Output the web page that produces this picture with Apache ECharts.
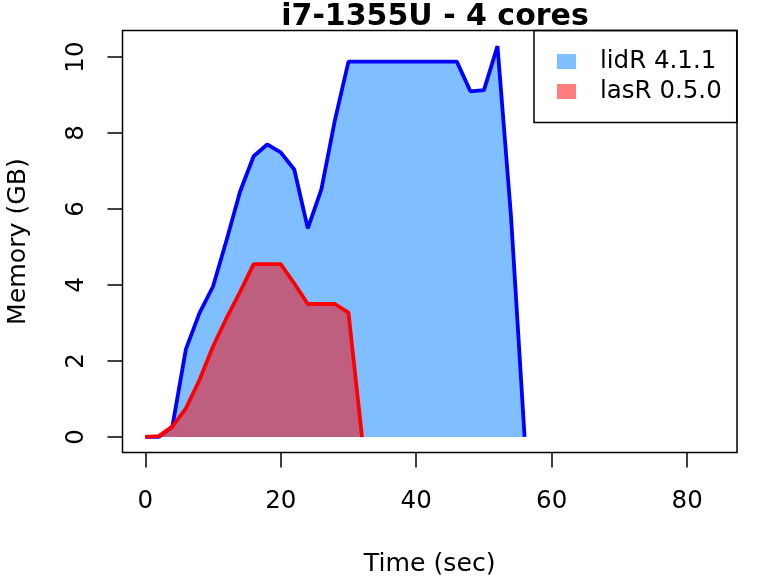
<!DOCTYPE html>
<html>
<head>
<meta charset="utf-8">
<script src="https://cdn.jsdelivr.net/npm/echarts@6/dist/echarts.min.js"></script>
<style>html,body{margin:0;padding:0;background:#fff}#c{width:768px;height:576px}</style>
</head>
<body>
<div id="c"></div>
<script>
const timeSec = [0,2,4,6,8,10,12,14,16,18,20,22,24,26,28,30,32,34,36,38,40,42,44,46,48,50,52,54,56];
const lidR = [0,0,0.27,2.31,3.26,3.96,5.18,6.46,7.39,7.70,7.49,7.04,5.49,6.52,8.34,9.88,9.88,9.88,9.88,9.88,9.88,9.88,9.88,9.88,9.10,9.13,10.29,5.80,0];
const lasRTime = [0,2,4,6,8,10,12,14,16,18,20,22,24,26,28,30,32];
const lasR = [0,0.02,0.27,0.75,1.50,2.38,3.13,3.82,4.55,4.55,4.55,4.04,3.50,3.50,3.50,3.27,0];
const xTicks = [0,20,40,60,80];
const yTicks = [0,2,4,6,8,10];
const seriesNames = ['lidR 4.1.1','lasR 0.5.0'];

const FONT = 'DejaVu Sans';
const chart = echarts.init(document.getElementById('c'), null, {renderer:'canvas'});
const pairs = (xs, ys) => xs.map((x,i)=>[x, ys[i]]);

chart.setOption({
  animation: false,
  backgroundColor: '#ffffff',
  title: {
    text: 'i7-1355U - 4 cores',
    left: 430, top: -3, textAlign: 'center',
    textStyle: {fontFamily: FONT, fontSize: 30, fontWeight: 'bold', color: '#000'}
  },
  legend: {
    orient: 'vertical',
    left: 534, top: 30.5,
    padding: [16, 15, 16, 23],
    itemGap: 0,
    itemWidth: 19, itemHeight: 15,
    borderColor: '#000', borderWidth: 1.5,
    textStyle: {fontFamily: FONT, fontSize: 24.5, color: '#000', lineHeight: 30, padding: [0,0,0,19]},
    data: [
      {name: seriesNames[0], icon: 'rect', itemStyle: {color: 'rgba(0,127,255,0.5)', borderWidth: 0}},
      {name: seriesNames[1], icon: 'rect', itemStyle: {color: 'rgba(255,0,0,0.5)', borderWidth: 0}}
    ]
  },
  grid: {
    left: 122.5, right: 31, top: 30.5, bottom: 123.5,
    outerBoundsMode: 'none', containLabel: false,
    show: true, borderColor: '#000', borderWidth: 1.5, backgroundColor: 'transparent'
  },
  xAxis: {
    type: 'value', min: -3.36, max: 87.36,
    name: 'Time (sec)', nameLocation: 'middle', nameGap: 99,
    nameTextStyle: {fontFamily: FONT, fontSize: 25.2, color: '#000'},
    axisLine: {show: false, onZero: false},
    axisTick: {show: true, length: 15, customValues: xTicks, lineStyle: {color: '#000', width: 1.5}},
    axisLabel: {customValues: xTicks, margin: 37, fontFamily: FONT, fontSize: 24.5, color: '#000'},
    splitLine: {show: false}
  },
  yAxis: {
    type: 'value', min: -0.41, max: 10.70,
    name: 'Memory (GB)', nameLocation: 'middle', nameGap: 92,
    nameTextStyle: {fontFamily: FONT, fontSize: 25.2, color: '#000'},
    axisLine: {show: false, onZero: false},
    axisTick: {show: true, length: 15, customValues: yTicks, lineStyle: {color: '#000', width: 1.5}},
    axisLabel: {customValues: yTicks, rotate: 90, margin: 33, fontFamily: FONT, fontSize: 24.5, color: '#000'},
    splitLine: {show: false}
  },
  series: [
    {
      name: seriesNames[0], type: 'line', data: pairs(timeSec, lidR),
      showSymbol: false, symbol: 'none',
      lineStyle: {color: '#0000ff', width: 3.8},
      itemStyle: {color: '#0000ff'},
      areaStyle: {color: 'rgba(0,127,255,0.5)', opacity: 1, origin: 'auto'},
      z: 2
    },
    {
      name: seriesNames[1], type: 'line', data: pairs(lasRTime, lasR),
      showSymbol: false, symbol: 'none',
      lineStyle: {color: '#ff0000', width: 3.8},
      itemStyle: {color: '#ff0000'},
      areaStyle: {color: 'rgba(255,0,0,0.5)', opacity: 1, origin: 'auto'},
      z: 3
    }
  ]
});
</script>
</body>
</html>
